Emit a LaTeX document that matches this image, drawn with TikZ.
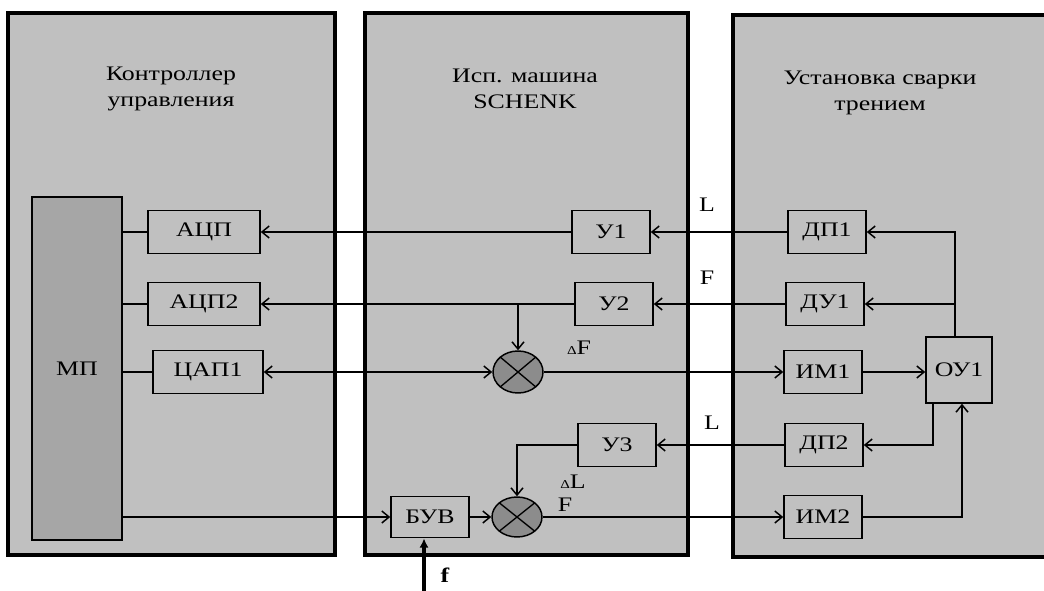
\documentclass[tikz,border=0pt]{standalone}
\usepackage{fontspec}
\setmainfont{Liberation Serif}[FakeStretch=1.25]
\usetikzlibrary{arrows.meta,positioning,calc,shapes.geometric}
\definecolor{panelgray}{HTML}{C0C0C0}
\definecolor{mpgray}{HTML}{A6A6A6}
\definecolor{sumgray}{HTML}{8C8C8C}

\begin{document}
\begin{tikzpicture}[x=0.75pt, y=-0.75pt, font=\fontsize{15.5}{19}\selectfont,
  >={Straight Barb[length=5.5pt,width=9pt]},
  panel/.style={draw=black, fill=panelgray, line width=2.6pt},
  blk/.style={draw=black, line width=1.1pt, minimum width=58.5pt, minimum height=32pt, inner sep=1pt},
  summer/.style={ellipse, draw=black, fill=sumgray, line width=1.1pt, minimum width=37.5pt, minimum height=31.5pt, inner sep=0pt,
    path picture={\draw[line width=1pt] (path picture bounding box.north west) -- (path picture bounding box.south east)
      (path picture bounding box.south west) -- (path picture bounding box.north east);}},
  wire/.style={line width=1.1pt}]
  \useasboundingbox[fill=white] (0,0) rectangle (1044,591);
  % panels
  \draw[panel] (8,13) rectangle (335,555);
  \draw[panel] (365,13) rectangle (688,555);
  \fill[panelgray] (733,15) rectangle (1044,557);
  \draw[line width=2.6pt] (1044,15) -- (733,15) -- (733,557) -- (1044,557);
  \node[align=center] (t1) at (171,89) {Контроллер\\управления};
  \node[align=center] (t2) at (525,89) {Исп. машина\\SCHENK};
  \node[align=center] (t3) at (880,93) {Установка сварки\\трением};
  % blocks
  \node[blk, fill=mpgray, minimum width=67.5pt, minimum height=257pt] (mp) at (77,368.5) {МП};
  \node[blk, minimum width=84pt] (adc1) at (204,232) {АЦП};
  \node[blk, minimum width=84pt] (adc2) at (204,304) {АЦП2};
  \node[blk, minimum width=82.5pt] (dac1) at (208,372) {ЦАП1};
  \node[blk] (u1) at (611,232) {У1};
  \node[blk] (u2) at (614,304) {У2};
  \node[blk] (u3) at (617,445) {У3};
  \node[blk, minimum height=31pt] (buv) at (430,517) {БУВ};
  \node[blk] (dp1) at (827,232) {ДП1};
  \node[blk] (du1) at (825,304) {ДУ1};
  \node[blk] (im1) at (823,372) {ИМ1};
  \node[blk] (dp2) at (824,445) {ДП2};
  \node[blk] (im2) at (823,517) {ИМ2};
  \node[blk, minimum width=49.5pt, minimum height=49.5pt] (ou1) at (959,370) {ОУ1};
  \node[summer] (s1) at (518,372) {};
  \node[summer, minimum height=30pt] (s2) at (517,517) {};
  % wires
  \draw[wire] (mp.east |- adc1.west) -- (adc1.west);
  \draw[wire] (mp.east |- adc2.west) -- (adc2.west);
  \draw[wire] (mp.east |- dac1.west) -- (dac1.west);
  \draw[wire, ->] (u1.west) -- (adc1.east);
  \draw[wire, ->] (dp1.west) -- (u1.east);
  \draw[wire, ->] (u2.west) -- (adc2.east);
  \draw[wire, ->] (du1.west) -- (u2.east);
  \coordinate (br1) at (s1.north |- u2.west);
  \draw[wire, ->] (br1) -- (s1.north);
  \draw[wire, <->] (dac1.east) -- (s1.west);
  \draw[wire, ->] (s1.east) -- (im1.west);
  \draw[wire, ->] (im1.east) -- (im1.east -| ou1.west);
  \coordinate (ou1top) at ($(ou1.north)+(-4,0)$);
  \draw[wire, ->] (ou1top) |- (dp1.east);
  \draw[wire, ->] (ou1top |- du1.east) -- (du1.east);
  \coordinate (ou1bl) at ($(ou1.south)+(-26,0)$);
  \draw[wire, ->] (ou1bl) |- (dp2.east);
  \draw[wire, ->] (dp2.west) -- (u3.east);
  \draw[wire, ->] (u3.west) -| (s2.north);
  \draw[wire, ->] (mp.east |- buv.west) -- (buv.west);
  \draw[wire, ->] (buv.east) -- (s2.west);
  \draw[wire, ->] (s2.east) -- (im2.west);
  \draw[wire, ->] (im2.east) -| ($(ou1.south)+(3,0)$);
  \coordinate (fin) at (424,591);
  \draw[line width=2.4pt, -{Latex[length=7pt,width=7pt]}] (fin) -- (fin |- buv.south);
  % labels
  \node (lblL1) at (707,205) {L};
  \node (lblF1) at (707,278) {F};
  \node (lblL2) at (712,423) {L};
  \node (lbldF) at (579,348) {{\small Δ}F};
  \node (lbldL) at (573,482) {{\small Δ}L};
  \node (lblF2) at (565,505) {F};
  \node (lblf) at (445,575) {\textbf{f}};
\end{tikzpicture}
\end{document}
